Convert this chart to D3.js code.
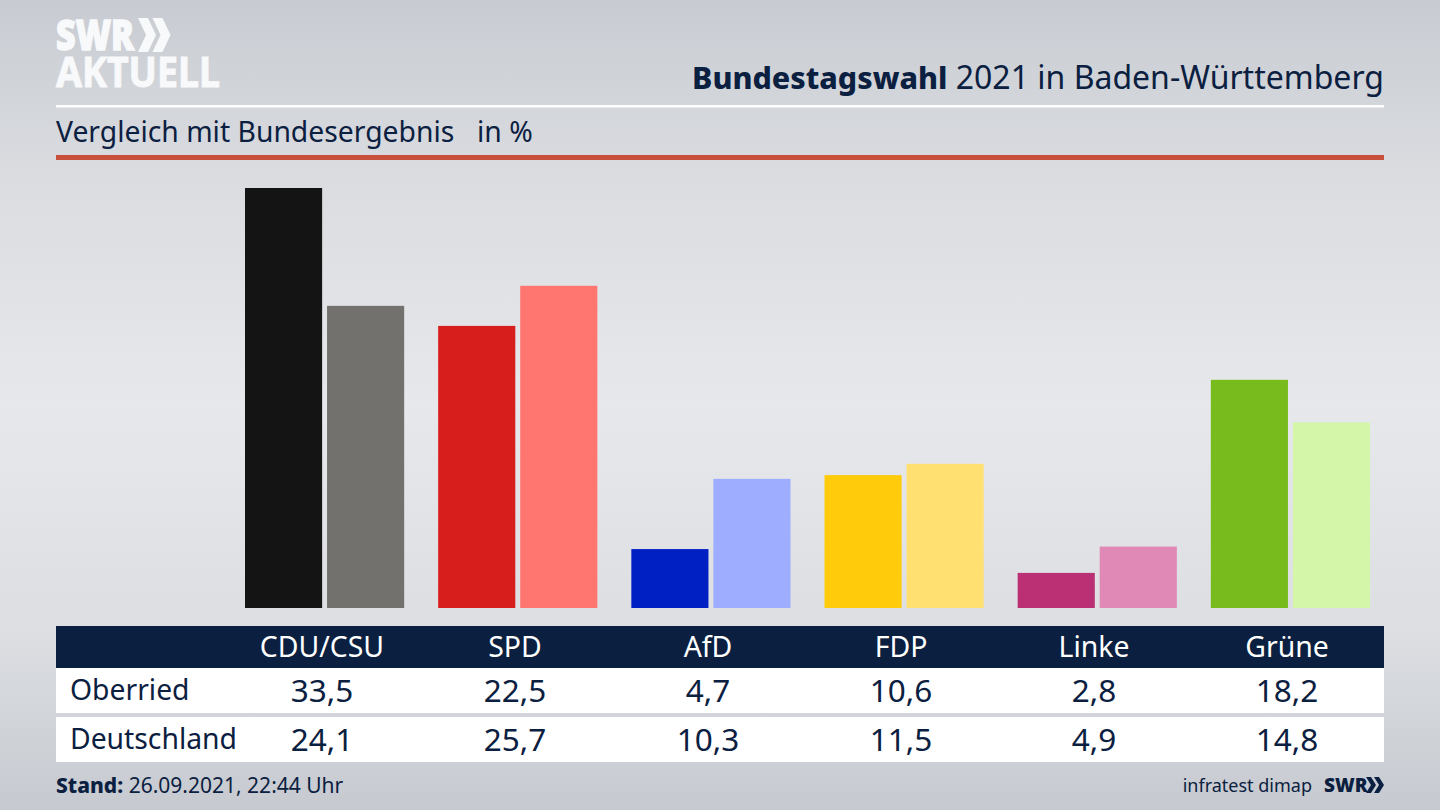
<!DOCTYPE html>
<html>
<head>
<meta charset="utf-8">
<script src="https://cdn.jsdelivr.net/npm/d3@7"></script>
<style>
  html, body { margin: 0; padding: 0; background: #d8dade; }
  svg { display: block; }
  text { font-family: "Noto Sans", sans-serif; fill: #0b2040; }
</style>
</head>
<body>
<div id="chart"></div>
<script>
var parties = ["CDU/CSU", "SPD", "AfD", "FDP", "Linke", "Grüne"];
var oberried = [33.5, 22.5, 4.7, 10.6, 2.8, 18.2];
var deutschland = [24.1, 25.7, 10.3, 11.5, 4.9, 14.8];
var rowNames = ["Oberried", "Deutschland"];
var darkColors = ["#141414", "#d81e1c", "#0020c4", "#ffcb0a", "#bb2f75", "#77bc1c"];
var lightColors = ["#73716d", "#ff7570", "#9eadff", "#ffe070", "#e088b6", "#d3f6a8"];

var width = 1440, height = 810;
var navy = "#0b2040";
var logoWhite = "#f8f9fa";

var svg = d3.select("#chart").append("svg").attr("width", width).attr("height", height);

// background, lighter around the middle
var grad = svg.append("defs").append("linearGradient").attr("id", "bg")
  .attr("x1", 0).attr("y1", 0).attr("x2", 0).attr("y2", 1);
grad.append("stop").attr("offset", "0%").attr("stop-color", "#c8ccd2");
grad.append("stop").attr("offset", "22%").attr("stop-color", "#dadce0");
grad.append("stop").attr("offset", "50%").attr("stop-color", "#e7e8eb");
grad.append("stop").attr("offset", "78%").attr("stop-color", "#dcdee2");
grad.append("stop").attr("offset", "100%").attr("stop-color", "#c6cad0");
svg.append("rect").attr("width", width).attr("height", height).attr("fill", "url(#bg)");

// logo
svg.append("text").attr("x", 56).attr("y", 50).attr("font-size", 42).attr("font-weight", 900)
  .attr("textLength", 78).attr("lengthAdjust", "spacingAndGlyphs")
  .style("fill", logoWhite).style("stroke", logoWhite).style("stroke-width", 1.5).text("SWR");
svg.append("text").attr("x", 56).attr("y", 87).attr("font-size", 42).attr("font-weight", 700)
  .attr("textLength", 164).attr("lengthAdjust", "spacingAndGlyphs")
  .style("fill", logoWhite).style("stroke", logoWhite).style("stroke-width", 1).text("AKTUELL");
[0, 1].forEach(function(i) {
  var x = 138 + i * 14.5;
  svg.append("path").attr("fill", logoWhite)
    .attr("d", "M" + x + ",18 h10 l8,17 l-8,17 h-10 l8,-17 z");
});

// header
svg.append("rect").attr("x", 56).attr("y", 105).attr("width", 1328).attr("height", 2.5).attr("fill", "#fff");
svg.append("rect").attr("x", 56).attr("y", 155).attr("width", 1328).attr("height", 5).attr("fill", "#c9503c");

var title = svg.append("text").attr("x", 1384).attr("y", 89).attr("text-anchor", "end").attr("font-size", 32);
title.append("tspan").attr("font-weight", 800).attr("font-size", 30.4).text("Bundestagswahl");
title.append("tspan").text(" 2021 in Baden-Württemberg");

svg.append("text").attr("x", 56).attr("y", 142).attr("font-size", 28.3).text("Vergleich mit Bundesergebnis");
svg.append("text").attr("x", 477).attr("y", 142).attr("font-size", 28.3).text("in %");

// bars
var x0 = d3.scaleBand().domain(parties).range([245, 1370]).paddingInner(0.176).paddingOuter(0);
var x1 = d3.scaleBand().domain([0, 1]).range([0, x0.bandwidth()]).paddingInner(0.06);
var y = d3.scaleLinear().domain([0, 33.5]).range([608, 188]);

var groups = svg.selectAll("g.party").data(parties).enter().append("g").attr("class", "party")
  .attr("transform", function(d) { return "translate(" + x0(d) + ",0)"; });

groups.append("rect").attr("x", x1(0)).attr("width", x1.bandwidth())
  .attr("y", function(d, i) { return y(oberried[i]); })
  .attr("height", function(d, i) { return y(0) - y(oberried[i]); })
  .attr("fill", function(d, i) { return darkColors[i]; });

groups.append("rect").attr("x", x1(1)).attr("width", x1.bandwidth())
  .attr("y", function(d, i) { return y(deutschland[i]); })
  .attr("height", function(d, i) { return y(0) - y(deutschland[i]); })
  .attr("fill", function(d, i) { return lightColors[i]; });

// table
var col = d3.scalePoint().domain(parties).range([322, 1287]);
var fmt = function(v) { return v.toFixed(1).replace(".", ","); };

svg.append("rect").attr("x", 56).attr("y", 626).attr("width", 1328).attr("height", 42).attr("fill", navy);
svg.append("rect").attr("x", 56).attr("y", 668).attr("width", 1328).attr("height", 45).attr("fill", "#fff");
svg.append("rect").attr("x", 56).attr("y", 717).attr("width", 1328).attr("height", 45).attr("fill", "#fff");

svg.selectAll("text.head").data(parties).enter().append("text").attr("class", "head")
  .attr("x", function(d) { return col(d); }).attr("y", 657).attr("text-anchor", "middle")
  .attr("font-size", 28.4).style("fill", "#fff").text(function(d) { return d; });

[oberried, deutschland].forEach(function(vals, r) {
  var base = r == 0 ? 701 : 750;
  svg.append("text").attr("x", 70).attr("y", base - 1).attr("font-size", 28.3).text(rowNames[r]);
  svg.selectAll("text.val" + r).data(vals).enter().append("text").attr("class", "val" + r)
    .attr("x", function(d, i) { return col(parties[i]); }).attr("y", base + 1).attr("text-anchor", "middle")
    .attr("font-size", 31.5).text(fmt);
});

// footer
var stand = svg.append("text").attr("x", 56).attr("y", 793).attr("font-size", 21);
stand.append("tspan").attr("font-weight", 800).text("Stand:");
stand.append("tspan").text(" 26.09.2021, 22:44 Uhr");

svg.append("text").attr("x", 1312).attr("y", 792).attr("text-anchor", "end").attr("font-size", 18).text("infratest dimap");
svg.append("text").attr("x", 1324).attr("y", 792).attr("font-size", 19).attr("font-weight", 900).text("SWR");
[0, 1].forEach(function(i) {
  var x = 1366 + i * 8;
  svg.append("path").attr("fill", navy)
    .attr("d", "M" + x + ",777 h5 l5,8 l-5,8 h-5 l5,-8 z");
});
</script>
</body>
</html>
